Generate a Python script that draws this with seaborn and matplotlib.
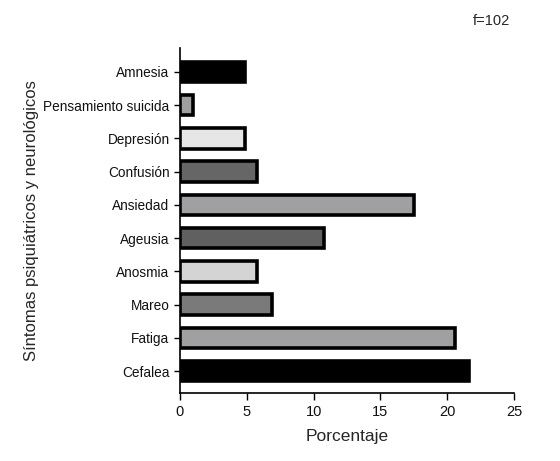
import matplotlib
matplotlib.use("Agg")
import matplotlib.pyplot as plt
import seaborn as sns
import pandas as pd

sintomas = ['Amnesia', 'Pensamiento suicida', 'Depresión', 'Confusión', 'Ansiedad',
            'Ageusia', 'Anosmia', 'Mareo', 'Fatiga', 'Cefalea']
porcentaje = [4.9, 1.0, 4.9, 5.8, 17.5, 10.8, 5.8, 6.9, 20.6, 21.6]
colores = ['#000000', '#a0a0a0', '#e6e6e6', '#666666', '#a0a0a2',
           '#606060', '#d4d4d4', '#7a7a7a', '#a0a0a2', '#000000']

df = pd.DataFrame({'sintoma': sintomas, 'pct': porcentaje})

sns.set_style('ticks')
plt.rcParams['font.family'] = ['Liberation Sans', 'DejaVu Sans']

fig = plt.figure(figsize=(5.6, 4.61), dpi=100)
ax = fig.add_axes([0.3214, 0.1475, 0.5966, 0.7485])

sns.barplot(data=df, y='sintoma', x='pct', hue='sintoma', palette=colores,
            orient='h', width=0.62, edgecolor='black', linewidth=2.6,
            legend=False, ax=ax)

ax.set_xlim(0, 25)
ax.set_ylim(9.66, -0.72)
ax.set_xticks([0, 5, 10, 15, 20, 25])
ax.tick_params(axis='y', labelsize=9.8, width=1, length=4, color='black', labelcolor='#111111')
ax.tick_params(axis='x', labelsize=10.5, width=1, length=5, color='black', labelcolor='#111111')
ax.set_xlabel('Porcentaje', fontsize=12.5, labelpad=7)
ax.set_ylabel('Síntomas psiquiátricos y neurológicos', fontsize=12, labelpad=3)
for s in ['left', 'bottom']:
    ax.spines[s].set_linewidth(1.2)
    ax.spines[s].set_color('black')
sns.despine(ax=ax)

fig.text(0.845, 0.955, 'f=102', fontsize=10.5, ha='left', va='center')

fig.savefig('out.png', dpi=100)
